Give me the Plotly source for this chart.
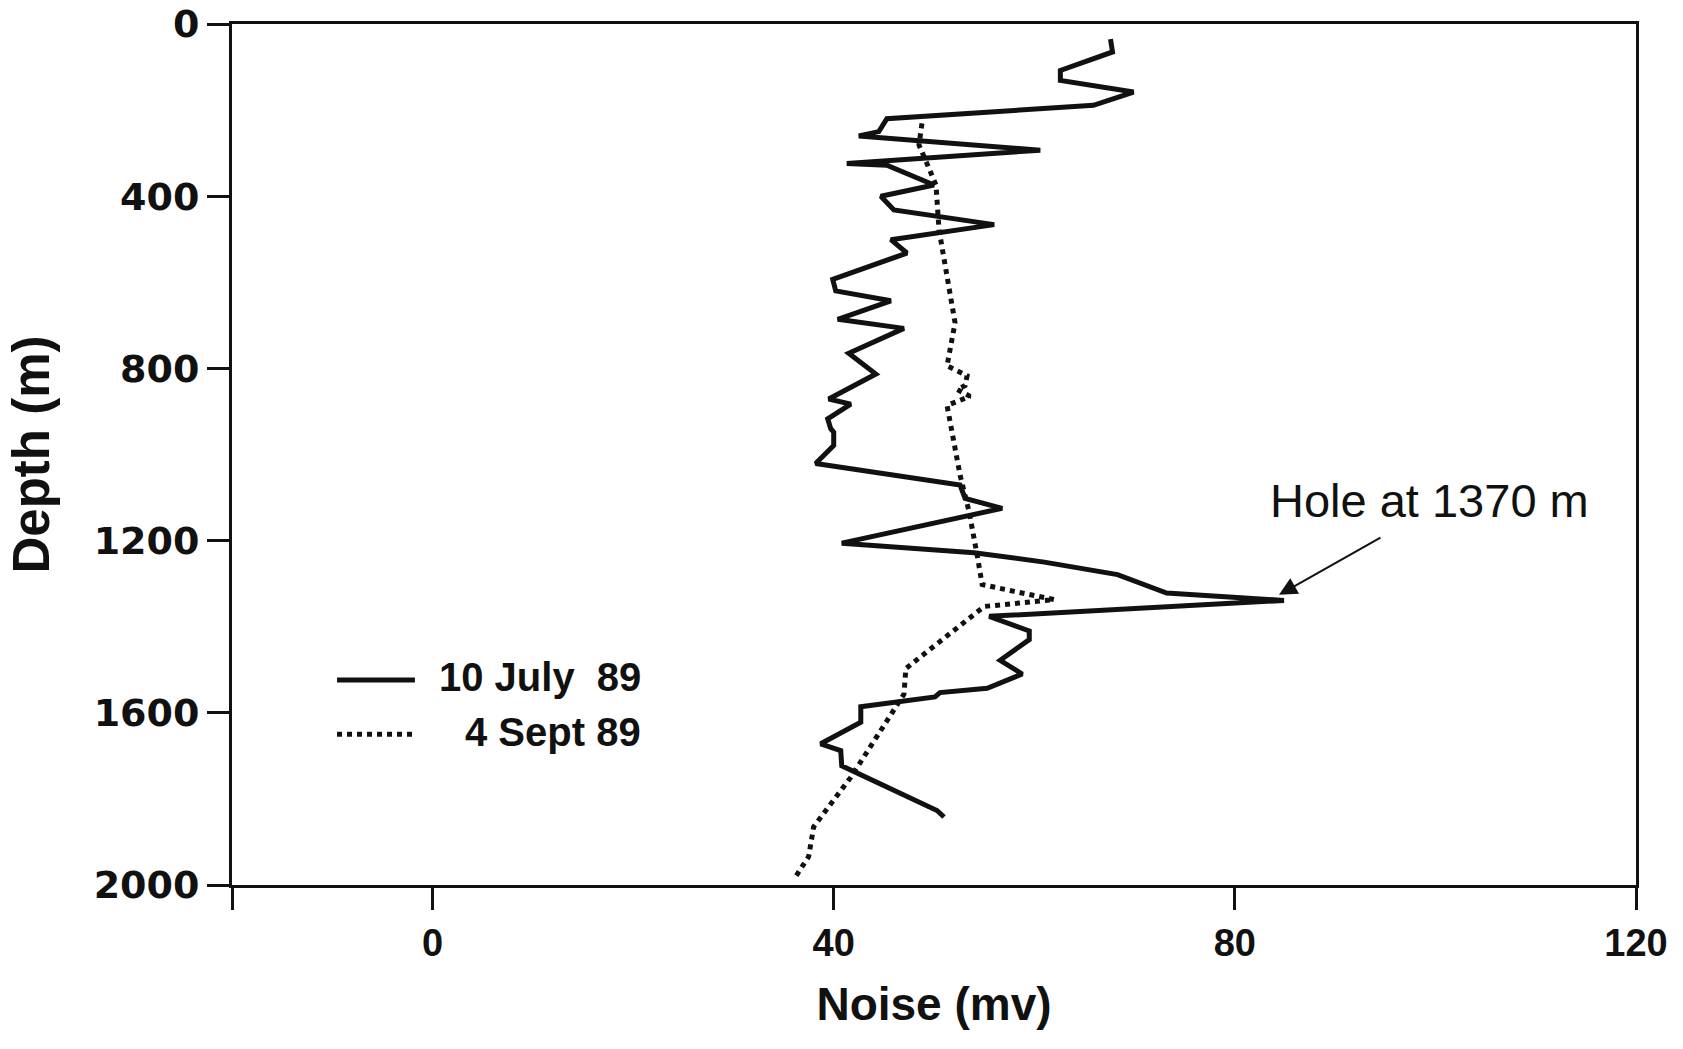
import plotly.graph_objects as go

# 10 July 89 (solid)
depth_july = [35, 65, 108, 131, 158, 189, 220, 250, 260, 293, 324, 328, 374, 400,
              432, 466, 501, 532, 593, 620, 643, 686, 707, 765, 813, 871, 883, 917,
              940, 948, 979, 1021, 1071, 1102, 1125, 1206, 1228, 1250, 1279, 1322,
              1339, 1376, 1410, 1430, 1478, 1510, 1543, 1553, 1563, 1586, 1622, 1672,
              1688, 1723, 1827, 1842]
noise_july = [67.6, 67.8, 62.6, 62.6, 69.9, 65.9, 45.3, 44.5, 42.5, 60.6, 41.3, 45.3,
              50.0, 44.7, 46.0, 56.0, 45.7, 47.3, 39.9, 40.2, 45.7, 40.4, 47.0, 41.5,
              44.2, 39.5, 41.7, 39.4, 39.7, 40.0, 40.0, 38.2, 52.6, 53.1, 56.8, 40.8,
              54.0, 61.0, 68.3, 73.2, 84.9, 55.5, 59.5, 59.5, 56.6, 58.8, 55.3, 50.6,
              50.1, 42.7, 42.7, 38.7, 40.7, 40.8, 50.3, 51.0]

# 4 Sept 89 (dotted)
depth_sept = [231, 281, 308, 374, 478, 647, 694, 794, 817, 840, 849, 865, 877, 886,
              1048, 1133, 1233, 1302, 1318, 1333, 1337, 1353, 1497, 1557, 1750, 1865,
              1934, 1988]
noise_sept = [48.8, 48.5, 49.0, 50.2, 50.5, 51.7, 52.1, 51.3, 53.3, 53.1, 52.3, 53.6,
              52.3, 51.3, 52.6, 53.5, 54.3, 54.8, 58.0, 61.6, 62.0, 55.0, 47.2, 47.0,
              41.7, 38.0, 37.5, 36.0]

x_ticks = [-20, 0, 40, 80, 120]
x_ticklabels = ["", "0", "40", "80", "120"]
y_ticks = [0, 400, 800, 1200, 1600, 2000]

INK = "#111111"

fig = go.Figure()
fig.add_trace(go.Scatter(x=noise_july, y=depth_july, mode="lines", name="10 July 89",
                         line=dict(color=INK, width=5), showlegend=False))
fig.add_trace(go.Scatter(x=noise_sept, y=depth_sept, mode="lines", name="4 Sept 89",
                         line=dict(color=INK, width=5, dash="dot"), showlegend=False))

fig.update_layout(
    width=1683, height=1049,
    margin=dict(l=232, r=47, t=24, b=164),
    paper_bgcolor="white", plot_bgcolor="white",
    font=dict(family="Liberation Sans, Arial, sans-serif", color=INK),
)
fig.update_xaxes(
    range=[-20, 120], tickvals=x_ticks, ticktext=x_ticklabels,
    ticks="outside", ticklen=22, tickwidth=3, tickcolor=INK,
    showline=True, linewidth=3, linecolor=INK, mirror=True,
    showgrid=False, zeroline=False, ticklabeloverflow="allow", automargin=False,
    tickfont=dict(family="Liberation Sans, Arial", size=38, weight="bold", color=INK),
    title=dict(text="Noise (mv)", standoff=26,
               font=dict(family="Liberation Sans, Arial", size=46, weight="bold", color=INK)),
)
fig.update_yaxes(
    range=[2000, 0], tickvals=y_ticks,
    ticks="outside", ticklen=22, tickwidth=3, tickcolor=INK,
    showline=True, linewidth=3, linecolor=INK, mirror=True,
    showgrid=False, zeroline=False, ticklabeloverflow="allow", automargin=False,
    tickfont=dict(family="DejaVu Sans", size=38, weight="bold", color=INK),
    title=dict(text="Depth (m)", standoff=28,
               font=dict(family="Liberation Sans, Arial", size=51, weight="bold", color=INK)),
)

# Arrow pointing to the hole
fig.add_annotation(x=84.4, y=1326, xref="x", yref="y", text="", showarrow=True,
                   ax=103, ay=-58, arrowhead=2, arrowsize=1.8, arrowwidth=2,
                   arrowcolor=INK, standoff=0)
fig.add_annotation(x=99.4, y=1107, xref="x", yref="y", text="Hole at 1370 m",
                   showarrow=False, xanchor="center", yanchor="middle",
                   font=dict(family="Liberation Sans, Arial", size=47, color=INK))

# Hand-made legend
fig.add_shape(type="line", xref="paper", yref="paper", x0=0.0748, x1=0.1303,
              y0=0.238, y1=0.238, line=dict(color=INK, width=5))
fig.add_shape(type="line", xref="paper", yref="paper", x0=0.0748, x1=0.1303,
              y0=0.175, y1=0.175, line=dict(color=INK, width=5, dash="dot"))
fig.add_annotation(x=0.293, y=0.241, xref="paper", yref="paper",
                   text="10 July\u00a0 89", showarrow=False, xanchor="right",
                   yanchor="middle",
                   font=dict(family="Liberation Sans, Arial", size=40, weight="bold", color=INK))
fig.add_annotation(x=0.293, y=0.178, xref="paper", yref="paper",
                   text="4 Sept 89", showarrow=False, xanchor="right",
                   yanchor="middle",
                   font=dict(family="Liberation Sans, Arial", size=40, weight="bold", color=INK))

fig.write_html("out.html")
